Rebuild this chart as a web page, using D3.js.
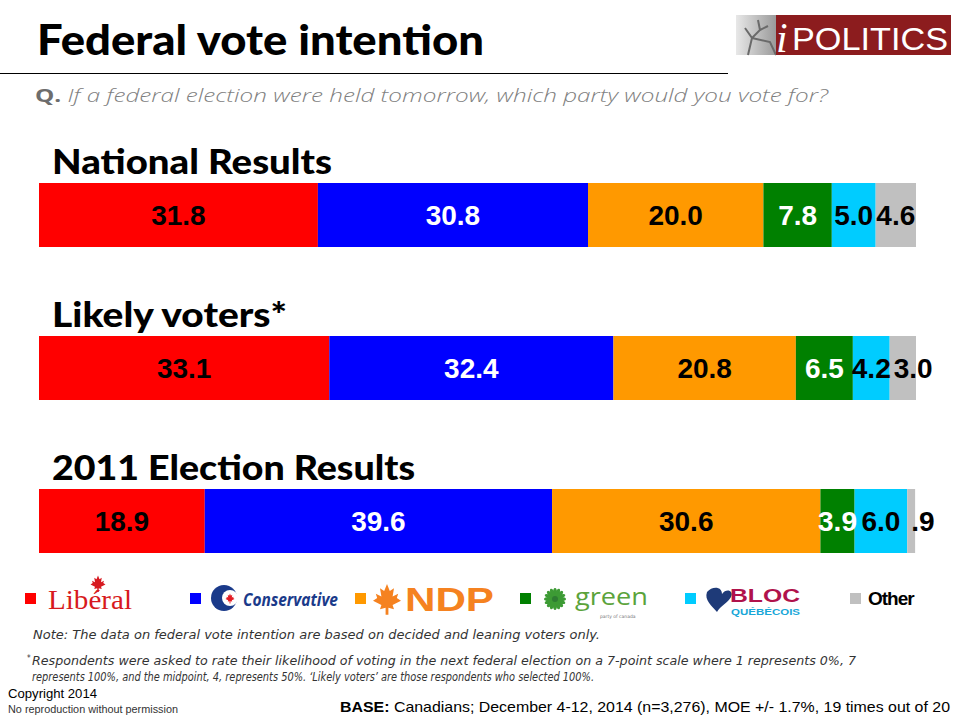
<!DOCTYPE html>
<html>
<head>
<meta charset="utf-8">
<script src="https://cdn.jsdelivr.net/npm/d3@7"></script>
<style>
  html, body { margin: 0; padding: 0; background: #fff; }
  svg { display: block; }
</style>
</head>
<body>
<svg id="chart" width="960" height="720"></svg>
<script>
// ---------------- DATA ----------------
const groups = ["National Results", "Likely voters*", "2011 Election Results"];
const parties = ["Liberal", "Conservative", "NDP", "Green", "Bloc", "Other"];
const nationalValues = [31.8, 30.8, 20.0, 7.8, 5.0, 4.6];
const likelyValues = [33.1, 32.4, 20.8, 6.5, 4.2, 3.0];
const election2011Values = [18.9, 39.6, 30.6, 3.9, 6.0, 0.9];
const seriesByGroup = [nationalValues, likelyValues, election2011Values];

const partyColors = ["#FF0000", "#0000FF", "#FF9900", "#008000", "#00CCFF", "#C0C0C0"];
const labelColors = ["#000", "#fff", "#000", "#fff", "#000", "#000"];
const headingWidths = [280, 235, 363];

// ---------------- LAYOUT ----------------
const svg = d3.select("#chart");
const x = d3.scaleLinear().domain([0, 100]).range([39, 916]);
const y = d3.scalePoint().domain(groups).range([183, 489]);
const barH = 64;

// Title
svg.append("text")
  .attr("x", 37).attr("y", 55)
  .attr("font-family", "Lato, 'DejaVu Sans', sans-serif")
  .attr("font-weight", 900).attr("font-size", 42)
  .attr("textLength", 447).attr("lengthAdjust", "spacingAndGlyphs")
  .attr("fill", "#000")
  .text("Federal vote intention");

svg.append("line")
  .attr("x1", 0).attr("x2", 728).attr("y1", 73.5).attr("y2", 73.5)
  .attr("stroke", "#000").attr("stroke-width", 1.2);

// Subtitle
const sub = svg.append("text")
  .attr("x", 35).attr("y", 102)
  .attr("font-family", "'Open Sans', 'DejaVu Sans', sans-serif")
  .attr("font-size", 17.5).attr("fill", "#7f7f7f")
  .attr("textLength", 793).attr("lengthAdjust", "spacingAndGlyphs");
sub.append("tspan").attr("font-weight", "bold").attr("fill", "#6d6d6d").text("Q.");
sub.append("tspan").attr("font-style", "italic").attr("font-weight", 300).text(" If a federal election were held tomorrow, which party would you vote for?");

// Logo (iPOLITICS)
const logo = svg.append("g");
const lg = svg.append("defs").append("linearGradient").attr("id", "deer").attr("x1", 0).attr("x2", 1);
lg.append("stop").attr("offset", 0).attr("stop-color", "#e8e8e8");
lg.append("stop").attr("offset", 1).attr("stop-color", "#9a9a9a");
logo.append("rect").attr("x", 736).attr("y", 15).attr("width", 40).attr("height", 40).attr("fill", "url(#deer)");
logo.append("path").attr("d", "M748 55 L752 38 L745 28 M752 38 L760 30 L758 20 M760 30 L768 26 M752 38 L770 42 L776 55")
  .attr("stroke", "#6a6a6a").attr("stroke-width", 2).attr("fill", "none");
logo.append("rect").attr("x", 776).attr("y", 15).attr("width", 175).attr("height", 40).attr("fill", "#8C1C1E");
logo.append("text").attr("x", 776).attr("y", 52)
  .attr("font-family", "'Liberation Serif', serif").attr("font-style", "italic")
  .attr("font-size", 42).attr("fill", "#fff").text("i");
logo.append("text").attr("x", 792).attr("y", 50)
  .attr("font-family", "'Liberation Sans', Arial, sans-serif")
  .attr("font-size", 31).attr("fill", "#fff")
  .attr("textLength", 156).attr("lengthAdjust", "spacingAndGlyphs")
  .text("POLITICS");

// ---------------- BARS ----------------
const fmt = v => d3.format(".1f")(v).replace(/^0\./, ".");

groups.forEach((g, gi) => {
  const vals = seriesByGroup[gi];
  const top = y(g);
  let cum = 0;
  const segs = vals.map((v, i) => {
    const s = { v, i, x0: cum, x1: cum + v };
    cum += v;
    return s;
  });

  svg.append("text")
    .attr("x", 52).attr("y", top - 9)
    .attr("font-family", "Lato, 'DejaVu Sans', sans-serif")
    .attr("font-weight", 900).attr("font-size", 34)
    .attr("textLength", headingWidths[gi]).attr("lengthAdjust", "spacingAndGlyphs")
    .attr("fill", "#000")
    .text(g);

  const grp = svg.append("g");
  grp.selectAll("rect").data(segs).join("rect")
    .attr("x", d => x(d.x0))
    .attr("y", top)
    .attr("width", d => x(d.x1) - x(d.x0))
    .attr("height", barH)
    .attr("fill", d => partyColors[d.i]);

  grp.selectAll("text").data(segs).join("text")
    .attr("font-family", "'Liberation Sans', Arial, sans-serif")
    .attr("font-weight", "bold").attr("font-size", 28)
    .attr("fill", d => labelColors[d.i])
    .attr("y", top + barH / 2 + 10)
    .text(d => fmt(d.v))
    .each(function (d) {
      const w = x(d.x1) - x(d.x0);
      const tw = this.getComputedTextLength();
      if (tw > w + 6) {
        d3.select(this).attr("x", x(d.x0) + 4).attr("text-anchor", "start");
      } else {
        d3.select(this).attr("x", (x(d.x0) + x(d.x1)) / 2).attr("text-anchor", "middle");
      }
    });
});

// ---------------- LEGEND ----------------
const leg = svg.append("g");
const sqX = [25, 190, 355, 520, 685, 850];
leg.selectAll("rect.sw").data(parties).join("rect")
  .attr("class", "sw")
  .attr("x", (d, i) => sqX[i]).attr("y", 593)
  .attr("width", 11).attr("height", 11)
  .attr("fill", (d, i) => partyColors[i]);

const leafPath = "M0,-10 L2,-5 L5,-7 L4,-1 L8,-3 L7,0 L10,2 L4,5 L5,8 L1,7 L1,12 L-1,12 L-1,7 L-5,8 L-4,5 L-10,2 L-7,0 L-8,-3 L-4,-1 L-5,-7 L-2,-5 Z";

// Liberal
leg.append("text").attr("x", 48).attr("y", 609)
  .attr("font-family", "'Liberation Serif', 'DejaVu Serif', serif")
  .attr("font-size", 27).attr("fill", "#D71920")
  .attr("textLength", 84).attr("lengthAdjust", "spacingAndGlyphs")
  .text("Libéral");
leg.append("path").attr("d", leafPath).attr("transform", "translate(98,583) scale(0.75)").attr("fill", "#D71920");

// Conservative
leg.append("circle").attr("cx", 224).attr("cy", 598).attr("r", 13).attr("fill", "#1A3A8A");
leg.append("circle").attr("cx", 230).attr("cy", 598).attr("r", 8).attr("fill", "#fff");
leg.append("path").attr("d", leafPath).attr("transform", "translate(230,598) scale(0.45)").attr("fill", "#E31B23");
leg.append("text").attr("x", 243).attr("y", 606)
  .attr("font-family", "'Open Sans', 'DejaVu Sans', sans-serif")
  .attr("font-weight", "bold").attr("font-style", "italic")
  .attr("font-size", 17).attr("fill", "#1A3A8A")
  .attr("textLength", 95).attr("lengthAdjust", "spacingAndGlyphs")
  .text("Conservative");

// NDP
leg.append("path").attr("d", leafPath).attr("transform", "translate(387,598) scale(1.4)").attr("fill", "#F58220");
leg.append("text").attr("x", 405).attr("y", 611)
  .attr("font-family", "'Liberation Sans', Arial, sans-serif")
  .attr("font-weight", "bold").attr("font-size", 33).attr("fill", "#F58220")
  .attr("textLength", 89).attr("lengthAdjust", "spacingAndGlyphs")
  .text("NDP");

// Green
const flower = leg.append("g").attr("transform", "translate(555,599)");
d3.range(16).forEach(k => {
  flower.append("ellipse").attr("cx", 0).attr("cy", -6).attr("rx", 2).attr("ry", 5)
    .attr("transform", `rotate(${k * 22.5})`).attr("fill", "#3D9B35");
});
flower.append("circle").attr("r", 3).attr("fill", "#2E7D32");
leg.append("text").attr("x", 575).attr("y", 605)
  .attr("font-family", "'Open Sans', 'DejaVu Sans', sans-serif")
  .attr("font-size", 23).attr("fill", "#5BA33B")
  .attr("textLength", 73).attr("lengthAdjust", "spacingAndGlyphs")
  .text("green");
leg.append("text").attr("x", 600).attr("y", 618)
  .attr("font-family", "'DejaVu Sans', sans-serif")
  .attr("font-size", 4.5).attr("fill", "#777")
  .text("party of canada");

// Bloc
leg.append("path").attr("d", "M707,592 C712,586 722,586 722,594 C726,588 734,590 731,597 C728,603 720,606 717,612 C712,606 704,600 707,592 Z")
  .attr("fill", "#1E3A78");
leg.append("text").attr("x", 730).attr("y", 602)
  .attr("font-family", "'Liberation Sans', Arial, sans-serif")
  .attr("font-weight", "bold").attr("font-size", 19).attr("fill", "#B0124B")
  .attr("textLength", 70).attr("lengthAdjust", "spacingAndGlyphs")
  .text("BLOC");
leg.append("text").attr("x", 731).attr("y", 615)
  .attr("font-family", "'Liberation Sans', Arial, sans-serif")
  .attr("font-weight", "bold").attr("font-size", 9.5).attr("fill", "#19A7D8")
  .attr("textLength", 69).attr("lengthAdjust", "spacingAndGlyphs")
  .text("QUÉBÉCOIS");

// Other
leg.append("text").attr("x", 868).attr("y", 605)
  .attr("font-family", "'Liberation Sans', Arial, sans-serif")
  .attr("font-weight", "bold").attr("font-size", 19).attr("fill", "#000")
  .attr("letter-spacing", -1)
  .text("Other");

// ---------------- NOTES ----------------
const noteFont = "'DejaVu Sans Condensed', 'Open Sans', sans-serif";
svg.append("text").attr("x", 33).attr("y", 639)
  .attr("font-family", noteFont).attr("font-style", "italic")
  .attr("font-size", 11.5).attr("fill", "#333")
  .attr("textLength", 567).attr("lengthAdjust", "spacingAndGlyphs")
  .text("Note: The data on federal vote intention are based on decided and leaning voters only.");

svg.append("text").attr("x", 27).attr("y", 661)
  .attr("font-family", noteFont).attr("font-size", 8).attr("fill", "#333").text("*");
svg.append("text").attr("x", 32).attr("y", 665)
  .attr("font-family", noteFont).attr("font-style", "italic")
  .attr("font-size", 11.5).attr("fill", "#333")
  .attr("textLength", 824).attr("lengthAdjust", "spacingAndGlyphs")
  .text("Respondents were asked to rate their likelihood of voting in the next federal election on a 7-point scale where 1 represents 0%, 7");
svg.append("text").attr("x", 32).attr("y", 681)
  .attr("font-family", noteFont).attr("font-style", "italic")
  .attr("font-size", 11.5).attr("fill", "#333")
  .attr("textLength", 562).attr("lengthAdjust", "spacingAndGlyphs")
  .text("represents 100%, and the midpoint, 4, represents 50%. ‘Likely voters’ are those respondents who selected 100%.");

svg.append("text").attr("x", 8).attr("y", 698)
  .attr("font-family", "'Liberation Sans', Arial, sans-serif")
  .attr("font-size", 12).attr("fill", "#000")
  .attr("textLength", 89).attr("lengthAdjust", "spacingAndGlyphs")
  .text("Copyright 2014");
svg.append("text").attr("x", 8).attr("y", 713)
  .attr("font-family", "'Liberation Sans', Arial, sans-serif")
  .attr("font-size", 10).attr("fill", "#333")
  .attr("textLength", 170).attr("lengthAdjust", "spacingAndGlyphs")
  .text("No reproduction without permission");

const base = svg.append("text").attr("x", 340).attr("y", 712)
  .attr("font-family", "'Liberation Sans', Arial, sans-serif")
  .attr("font-size", 15).attr("fill", "#000")
  .attr("textLength", 610).attr("lengthAdjust", "spacingAndGlyphs");
base.append("tspan").attr("font-weight", "bold").text("BASE:");
base.append("tspan").text(" Canadians; December 4-12, 2014 (n=3,276), MOE +/- 1.7%, 19 times out of 20");
</script>
</body>
</html>
